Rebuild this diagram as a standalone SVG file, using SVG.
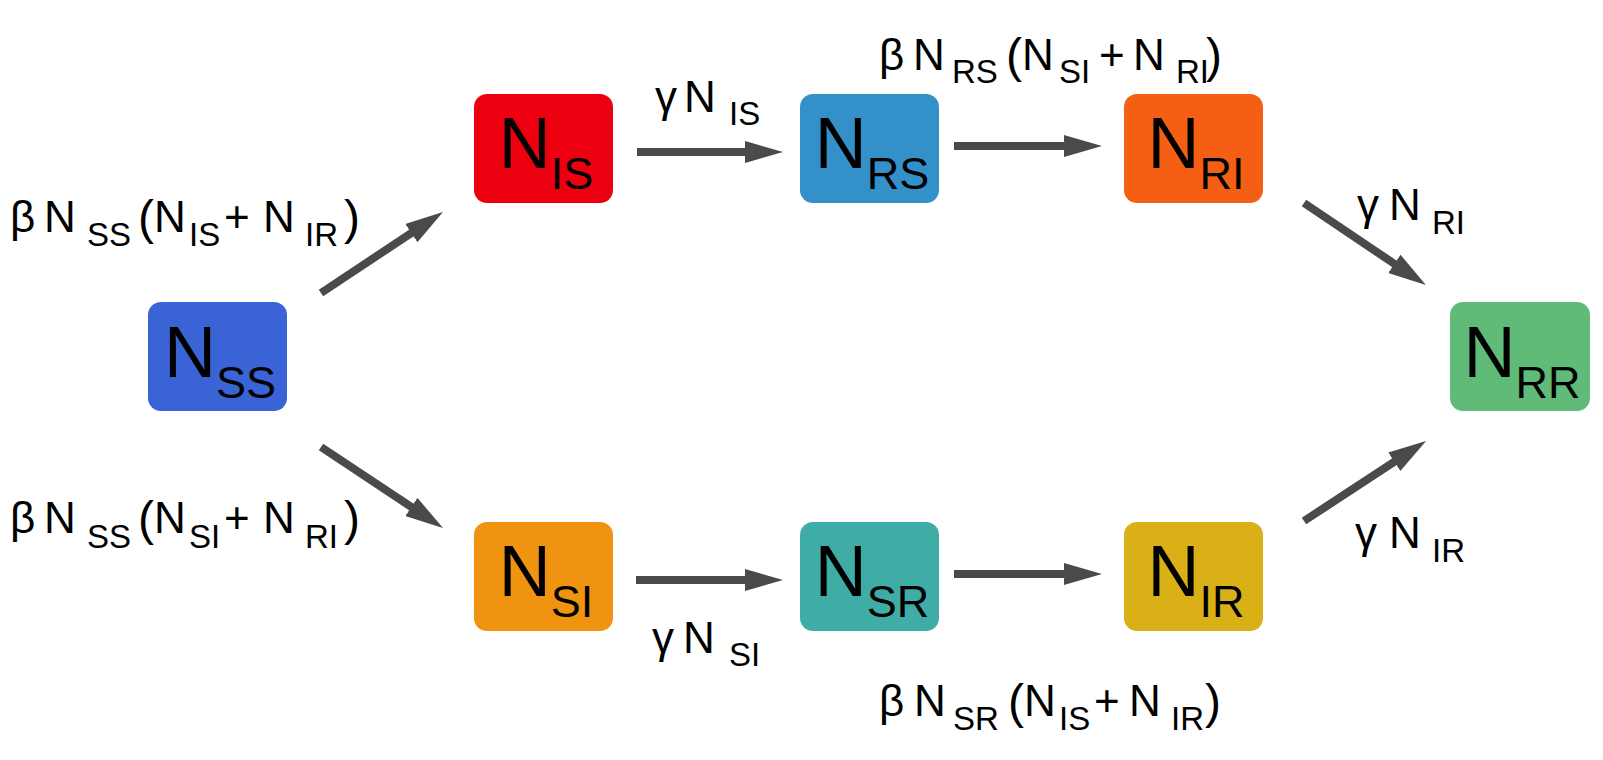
<svg xmlns="http://www.w3.org/2000/svg" width="1603" height="760" viewBox="0 0 1603 760">
<defs>
<marker id="ah" markerUnits="userSpaceOnUse" markerWidth="38" markerHeight="22" viewBox="0 0 38 22" refX="8" refY="11" orient="auto">
<path d="M0,0 L38,11 L0,22 z" fill="#4a4a4a"/>
</marker>
<style>
.box{stroke:none}
.nl{font-family:"Liberation Sans",Arial,sans-serif;font-size:72px;fill:#000;text-anchor:middle}
.ns{font-size:45px}
.el{font-family:"Liberation Sans",Arial,sans-serif;font-size:44px;fill:#000}
.es{font-size:33px}
.ep{font-size:48px}
.conn line{stroke:#4a4a4a;stroke-width:8;marker-end:url(#ah)}
</style>
</defs>
<rect width="1603" height="760" fill="#fff"/>

<g id="N_SS"><rect class="box" x="148" y="302" width="139" height="109" rx="13" fill="#3a63d6"/><text class="nl" x="220" y="377">N<tspan class="ns" dy="21">SS</tspan></text></g>
<g id="N_IS"><rect class="box" x="474" y="94" width="139" height="109" rx="13" fill="#ec000f"/><text class="nl" x="546" y="168">N<tspan class="ns" dy="21">IS</tspan></text></g>
<g id="N_RS"><rect class="box" x="800" y="94" width="139" height="109" rx="13" fill="#3490c8"/><text class="nl" x="872" y="168">N<tspan class="ns" dy="21">RS</tspan></text></g>
<g id="N_RI"><rect class="box" x="1124" y="94" width="139" height="109" rx="13" fill="#f55f14"/><text class="nl" x="1196" y="168">N<tspan class="ns" dy="21">RI</tspan></text></g>
<g id="N_RR"><rect class="box" x="1450" y="302" width="140" height="109" rx="13" fill="#60ba78"/><text class="nl" x="1522" y="377">N<tspan class="ns" dy="21">RR</tspan></text></g>
<g id="N_SI"><rect class="box" x="474" y="522" width="139" height="109" rx="13" fill="#f09310"/><text class="nl" x="546" y="596">N<tspan class="ns" dy="21">SI</tspan></text></g>
<g id="N_SR"><rect class="box" x="800" y="522" width="139" height="109" rx="13" fill="#3fada6"/><text class="nl" x="872" y="596">N<tspan class="ns" dy="21">SR</tspan></text></g>
<g id="N_IR"><rect class="box" x="1124" y="522" width="139" height="109" rx="13" fill="#d9b116"/><text class="nl" x="1196" y="596">N<tspan class="ns" dy="21">IR</tspan></text></g>

<g id="connectors" class="conn">
<line x1="321" y1="293" x2="418" y2="228.6"/>
<line x1="321" y1="447" x2="418" y2="511.4"/>
<line x1="637" y1="152" x2="753" y2="152"/>
<line x1="954" y1="146" x2="1072" y2="146"/>
<line x1="636" y1="580" x2="753" y2="580"/>
<line x1="954" y1="574" x2="1072" y2="574"/>
<line x1="1304" y1="203" x2="1401" y2="268.3"/>
<line x1="1304" y1="521" x2="1401" y2="457.4"/>
</g>

<g id="labels">
<text class="el"><tspan x="10" y="232">β</tspan><tspan x="44" y="232">N</tspan><tspan class="es" x="87" y="246">SS</tspan><tspan class="ep" x="138" y="234">(</tspan><tspan x="154" y="232">N</tspan><tspan class="es" x="189" y="246">IS</tspan><tspan x="224" y="232">+</tspan><tspan x="263" y="232">N</tspan><tspan class="es" x="305" y="246">IR</tspan><tspan class="ep" x="344" y="234">)</tspan></text>
<text class="el"><tspan x="10" y="533">β</tspan><tspan x="44" y="533">N</tspan><tspan class="es" x="87" y="548">SS</tspan><tspan class="ep" x="138" y="535">(</tspan><tspan x="154" y="533">N</tspan><tspan class="es" x="189" y="548">SI</tspan><tspan x="224" y="533">+</tspan><tspan x="263" y="533">N</tspan><tspan class="es" x="305" y="548">RI</tspan><tspan class="ep" x="344" y="535">)</tspan></text>
<text class="el"><tspan x="655" y="112">γ</tspan><tspan x="684" y="112">N</tspan><tspan class="es" x="729" y="125">IS</tspan></text>
<text class="el"><tspan x="879" y="70">β</tspan><tspan x="913" y="70">N</tspan><tspan class="es" x="952" y="83">RS</tspan><tspan class="ep" x="1006" y="72">(</tspan><tspan x="1022" y="70">N</tspan><tspan class="es" x="1059" y="83">SI</tspan><tspan x="1099" y="70">+</tspan><tspan x="1133" y="70">N</tspan><tspan class="es" x="1176" y="83">RI</tspan><tspan class="ep" x="1206" y="72">)</tspan></text>
<text class="el"><tspan x="1357" y="220">γ</tspan><tspan x="1389" y="220">N</tspan><tspan class="es" x="1432" y="234">RI</tspan></text>
<text class="el"><tspan x="1355" y="548">γ</tspan><tspan x="1389" y="548">N</tspan><tspan class="es" x="1432" y="562">IR</tspan></text>
<text class="el"><tspan x="652" y="653">γ</tspan><tspan x="683" y="653">N</tspan><tspan class="es" x="729" y="666">SI</tspan></text>
<text class="el"><tspan x="879" y="716">β</tspan><tspan x="914" y="716">N</tspan><tspan class="es" x="953" y="730">SR</tspan><tspan class="ep" x="1008" y="718">(</tspan><tspan x="1024" y="716">N</tspan><tspan class="es" x="1059" y="730">IS</tspan><tspan x="1094" y="716">+</tspan><tspan x="1129" y="716">N</tspan><tspan class="es" x="1171" y="730">IR</tspan><tspan class="ep" x="1205" y="718">)</tspan></text>
</g>
</svg>
